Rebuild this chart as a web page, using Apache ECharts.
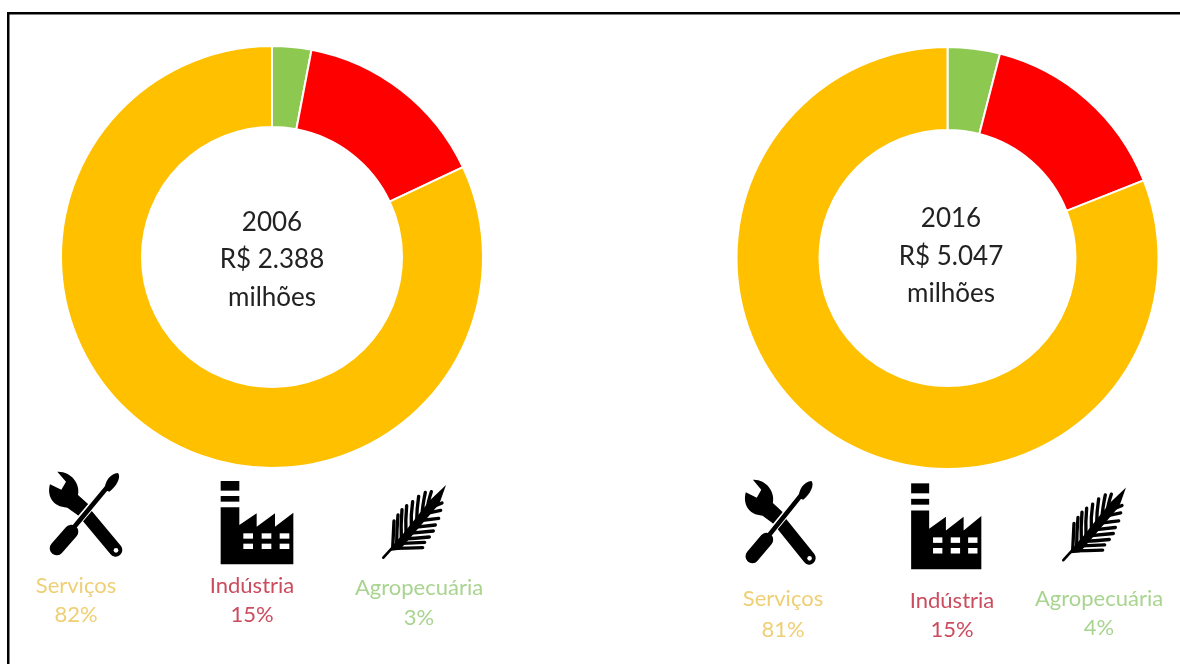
<!DOCTYPE html>
<html>
<head>
<meta charset="utf-8">
<title>Composição do PIB</title>
<style>
  html, body { margin: 0; padding: 0; background: #fff; }
  #chart { width: 1180px; height: 664px; }
</style>
<script src="https://cdn.jsdelivr.net/npm/echarts@6/dist/echarts.min.js"></script>
</head>
<body>
<div id="chart"></div>
<script>
// Sector shares of GDP, listed clockwise from twelve o'clock
const sectors = ['Agropecuária', 'Indústria', 'Serviços'];
const sectorColors = ['#8DC950', '#FF0000', '#FFC000'];
const labelColors = ['#A9D490', '#CB4C5E', '#EFCF74'];
const shares2006 = [3, 15, 82];
const shares2016 = [4, 15, 81];
const centerText2006 = ['2006', 'R$ 2.388', 'milhões'];
const centerText2016 = ['2016', 'R$ 5.047', 'milhões'];

const FONT = 'Lato, "Open Sans", sans-serif';

// The graphic component has no free-form path type, so each outline is registered as a shape
let shapeCount = 0;
function pathEl(d, style) {
  const name = 'iconShape' + (shapeCount++);
  echarts.graphic.registerShape(name, echarts.graphic.extendPath(d, {}));
  return { type: name, shape: {}, style: style };
}
const stroke = (d, width, color) => pathEl(d, { fill: null, stroke: color, lineWidth: width, lineCap: 'round' });
const solid = (d, color) => pathEl(d, { fill: color, stroke: null });

// Icon outlines, drawn in a local design space (three units per pixel)
function toolsIcon(ox, oy, sx, sy) {
  return {
    type: 'group', x: ox, y: oy, scaleX: sx, scaleY: sy,
    children: [
      stroke('M140 115 L257 255', 40, '#000'),
      solid('M60 58 C50 92 68 126 112 128 L150 155 L175 118 L144 90 C152 55 122 18 82 20 L108 50 L94 74 Z', '#000'),
      stroke('M142 172 L190 116', 22, '#fff'),
      stroke('M125 195 L232 66', 14, '#000'),
      stroke('M80 250 L124 200', 42, '#000'),
      solid('M224 74 C224 50 240 26 264 24 C274 36 260 64 238 80 Z', '#000'),
      { type: 'circle', shape: { cx: 258, cy: 256, r: 7 }, style: { fill: '#fff', stroke: null } }
    ]
  };
}

function factoryIcon(ox, oy, sx, sy) {
  const body = 'M47 112 L103 112 L103 165 L155 130 L155 170 L210 130 L210 170 L265 128 L265 283 L47 283 Z';
  const windows = [];
  [190, 221].forEach(y => [115, 170, 224].forEach(x => {
    windows.push({ type: 'rect', shape: { x: x, y: y, width: 29, height: 16 }, style: { fill: '#fff', stroke: null } });
  }));
  return {
    type: 'group', x: ox, y: oy, scaleX: sx, scaleY: sy,
    children: [
      { type: 'rect', shape: { x: 47, y: 33, width: 56, height: 29 }, style: { fill: '#000', stroke: null } },
      { type: 'rect', shape: { x: 47, y: 78, width: 56, height: 17 }, style: { fill: '#000', stroke: null } },
      solid(body, '#000')
    ].concat(windows)
  };
}

function wheatIcon(ox, oy, sx, sy) {
  // stalk point, bend point and tip of each frond
  const fronds = [
    [68, 220, 70, 180, 72, 138], [80, 206, 80, 165, 84, 120], [94, 192, 92, 150, 96, 104],
    [108, 176, 106, 135, 110, 92], [124, 158, 122, 120, 128, 80], [140, 138, 140, 105, 146, 64],
    [156, 118, 158, 90, 166, 52], [172, 100, 174, 80, 184, 50],
    [68, 220, 110, 220, 158, 218], [80, 206, 120, 204, 164, 202], [94, 192, 135, 190, 178, 186],
    [108, 176, 150, 172, 190, 168], [124, 158, 160, 154, 196, 150], [140, 138, 172, 134, 206, 130],
    [156, 118, 184, 112, 212, 106], [172, 100, 194, 94, 216, 84]
  ];
  const leaf = ([bx, by, cx, cy, tx, ty]) => stroke(`M${bx} ${by} Q${cx} ${cy} ${tx} ${ty}`, 10, '#000');
  return {
    type: 'group', x: ox, y: oy, scaleX: sx, scaleY: sy,
    children: [
      stroke('M40 248 L100 182', 8, '#000'),
      solid('M58 228 L180 76 L228 30 L208 86 L90 224 Z', '#000')
    ].concat(fronds.map(leaf))
  };
}

function centerLabel(lines, x, ys) {
  return lines.map((line, i) => ({
    type: 'text', x: x, y: ys[i],
    style: { text: line, font: '26px ' + FONT, fill: '#222', align: 'center', verticalAlign: 'middle' }
  }));
}

function sectorLabel(index, values, x, yName, yValue) {
  const base = { font: '22px ' + FONT, fill: labelColors[index], align: 'center', verticalAlign: 'middle' };
  return [
    { type: 'text', x: x, y: yName, style: Object.assign({ text: sectors[index] }, base) },
    { type: 'text', x: x, y: yValue, style: Object.assign({ text: values[index] + '%' }, base) }
  ];
}

function donut(name, values, center, inner) {
  return {
    type: 'pie', name: name, center: center, radius: [inner, 211],
    startAngle: 90, clockwise: true, silent: true,
    label: { show: false }, labelLine: { show: false },
    itemStyle: { borderColor: '#fff', borderWidth: 2 },
    data: sectors.map((s, i) => ({ name: s, value: values[i], itemStyle: { color: sectorColors[i] } }))
  };
}

const chart = echarts.init(document.getElementById('chart'), null, { renderer: 'canvas' });
chart.setOption({
  animation: false,
  backgroundColor: '#fff',
  series: [
    donut('2006', shares2006, [272, 257], 130),
    donut('2016', shares2016, [947.5, 258], 128)
  ],
  graphic: { elements: [
    { type: 'rect', shape: { x: 7, y: 12, width: 1173, height: 2.5 }, style: { fill: '#000' } },
    { type: 'rect', shape: { x: 7, y: 12, width: 2.5, height: 652 }, style: { fill: '#000' } },
    ...centerLabel(centerText2006, 272, [223, 260, 298]),
    ...centerLabel(centerText2016, 951, [219, 257, 294]),
    toolsIcon(30, 465, 1 / 3, 1 / 3),
    factoryIcon(205, 470, 1 / 3, 1 / 3),
    wheatIcon(370, 475, 1 / 3, 1 / 3),
    toolsIcon(726.5, 473, 0.322, 1 / 3),
    factoryIcon(896, 472, 0.322, 0.344),
    wheatIcon(1050, 477.5, 1 / 3, 1 / 3),
    ...sectorLabel(2, shares2006, 76, 586, 615),
    ...sectorLabel(1, shares2006, 252, 586, 615),
    ...sectorLabel(0, shares2006, 419, 588, 618),
    ...sectorLabel(2, shares2016, 783, 599, 630),
    ...sectorLabel(1, shares2016, 952, 601, 630),
    ...sectorLabel(0, shares2016, 1099, 599, 628)
  ] }
});
</script>
</body>
</html>
